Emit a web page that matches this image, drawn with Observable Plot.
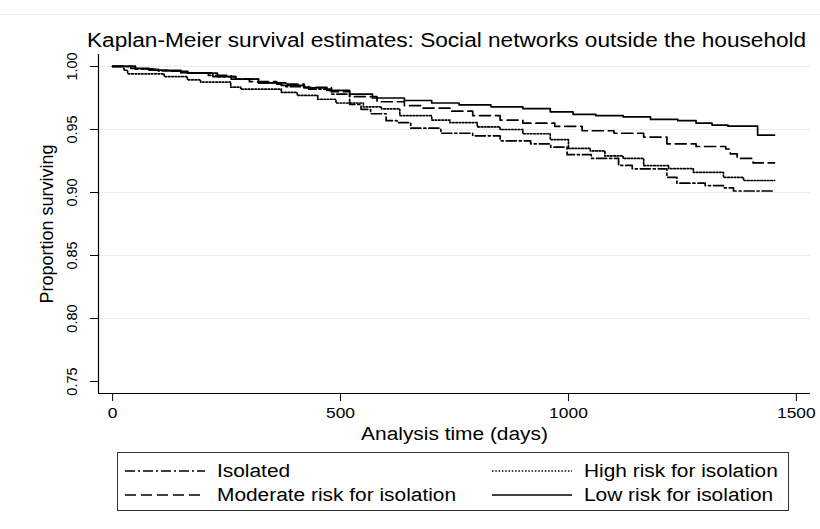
<!DOCTYPE html>
<html>
<head>
<meta charset="utf-8">
<script src="https://cdn.jsdelivr.net/npm/d3@7"></script>
<script src="https://cdn.jsdelivr.net/npm/@observablehq/plot@0.6"></script>
<style>
  html, body { margin: 0; padding: 0; background: #fff; }
  body { width: 820px; height: 529px; position: relative; overflow: hidden;
         font-family: "Liberation Sans", Arial, sans-serif; color: #000; }
  #topline { position: absolute; left: 0; top: 14px; width: 820px; height: 0; border-top: 1px solid #eef2f5; }
  #title { position: absolute; left: 87px; top: 28px; font-size: 19.5px; line-height: 24px; white-space: nowrap;
           transform: scaleX(1.16); transform-origin: 0 0; }
  #chart { position: absolute; left: 0; top: 50px; }
  #legend { position: absolute; left: 117px; top: 452px; width: 672px; height: 59px;
            border: 1px solid #333; box-sizing: border-box; }
  .item { position: absolute; height: 22px; display: flex; align-items: center; white-space: nowrap; }
  .item svg { margin-right: 12px; }
  .item span { display: inline-block; font-size: 18px; transform: scaleX(1.16); transform-origin: 0 50%; }
</style>
</head>
<body>
<div id="topline"></div>
<div id="title">Kaplan-Meier survival estimates: Social networks outside the household</div>
<div id="chart"></div>
<div id="legend"></div>
<script>
// ---- data (step-function knots) ----
const seriesNames = ["Isolated", "High risk for isolation", "Moderate risk for isolation", "Low risk for isolation"];

const isolatedTime = [0, 50, 100, 150, 220, 270, 320, 380, 430, 480, 520, 545, 566, 600, 624, 654, 720, 790, 850, 917, 961, 997, 1050, 1110, 1140, 1216, 1238, 1300, 1340, 1362, 1452];
const isolatedSurv = [1.000, 0.998, 0.9965, 0.995, 0.992, 0.990, 0.987, 0.984, 0.982, 0.978, 0.970, 0.966, 0.9625, 0.957, 0.9555, 0.951, 0.947, 0.945, 0.941, 0.9386, 0.936, 0.930, 0.927, 0.9215, 0.9188, 0.912, 0.9074, 0.9055, 0.9037, 0.9012, 0.9012];

const highTime = [0, 25, 33, 113, 164, 193, 259, 281, 370, 405, 450, 490, 550, 590, 630, 700, 740, 800, 850, 900, 960, 1000, 1048, 1080, 1120, 1165, 1220, 1274, 1340, 1384, 1452];
const highSurv = [1.000, 0.997, 0.9942, 0.992, 0.9894, 0.9876, 0.9836, 0.982, 0.9794, 0.977, 0.974, 0.971, 0.968, 0.9664, 0.961, 0.9575, 0.9555, 0.952, 0.950, 0.9466, 0.942, 0.935, 0.933, 0.929, 0.927, 0.9214, 0.919, 0.916, 0.912, 0.9095, 0.9095];

const moderateTime = [0, 50, 100, 150, 210, 260, 300, 360, 420, 480, 520, 580, 640, 680, 740, 790, 850, 900, 970, 1030, 1100, 1165, 1216, 1280, 1345, 1355, 1370, 1405, 1452];
const moderateSurv = [1.000, 0.998, 0.997, 0.995, 0.993, 0.990, 0.988, 0.986, 0.9835, 0.980, 0.976, 0.972, 0.969, 0.967, 0.9645, 0.961, 0.9575, 0.955, 0.9525, 0.949, 0.947, 0.944, 0.9386, 0.9365, 0.9345, 0.9307, 0.927, 0.9235, 0.9235];

const lowTime = [0, 40, 80, 130, 165, 230, 270, 320, 370, 420, 470, 520, 570, 640, 700, 760, 830, 900, 960, 1010, 1060, 1120, 1180, 1240, 1280, 1315, 1350, 1415, 1452];
const lowSurv = [1.000, 0.9985, 0.997, 0.9962, 0.9947, 0.992, 0.990, 0.987, 0.985, 0.983, 0.981, 0.978, 0.975, 0.973, 0.971, 0.9695, 0.968, 0.9665, 0.964, 0.962, 0.961, 0.960, 0.958, 0.957, 0.955, 0.9535, 0.9526, 0.9455, 0.9455];

const xTicks = [0, 500, 1000, 1500];
const yTicks = [0.75, 0.80, 0.85, 0.90, 0.95, 1.00];
const gridTicks = [0.80, 0.85, 0.90, 0.95, 1.00];

// ---- build table ----
const pairs = [[isolatedTime, isolatedSurv], [highTime, highSurv], [moderateTime, moderateSurv], [lowTime, lowSurv]];
const rows = [];
pairs.forEach(([t, s], i) => t.forEach((v, j) => rows.push({series: seriesNames[i], time: v, surv: s[j]})));

const dashes = {
  "Isolated": "10,3,2,3",
  "High risk for isolation": "1.5,1.8",
  "Moderate risk for isolation": "11,5",
  "Low risk for isolation": null
};

const marks = [
  Plot.ruleY(gridTicks, {stroke: "#e6eef2", strokeWidth: 1.2}),
  ...seriesNames.map(name => Plot.line(rows.filter(r => r.series === name), {
    x: "time", y: "surv", curve: "step-after", stroke: "#000", strokeWidth: 1.7,
    strokeDasharray: dashes[name] ?? undefined
  })),
  Plot.axisX({ticks: xTicks, tickSize: 8, tickPadding: 6, tickFormat: d3.format("d"),
    label: "Analysis time (days)", labelAnchor: "center", labelArrow: "none", labelOffset: 46}),
  Plot.axisY({ticks: yTicks, tickSize: 8, tickPadding: 14, tickRotate: -90,
    tickFormat: d3.format(".2f"),
    label: "Proportion surviving", labelAnchor: "center", labelArrow: "none", labelOffset: 58}),
  Plot.ruleX([-31], {stroke: "#000", strokeWidth: 1.2}),
  Plot.ruleY([0.7405], {stroke: "#000", strokeWidth: 1.2})
];

const chart = Plot.plot({
  width: 820,
  height: 395,
  marginTop: 4,
  marginBottom: 52,
  marginLeft: 98,
  marginRight: 10,
  style: {fontFamily: "'Liberation Sans', Arial, sans-serif", color: "#000", background: "transparent"},
  x: {domain: [-31, 1531]},
  y: {domain: [0.7405, 1.0095]},
  marks
});
document.getElementById("chart").appendChild(chart);

// font sizes and horizontal stretch of the horizontal texts (reference is stretched horizontally)
function styleGroup(label, size, stretch) {
  chart.querySelectorAll(`g[aria-label="${label}"]`).forEach(g => {
    g.setAttribute("font-size", size);
    g.style.fontSize = size + "px";
    if (stretch) g.querySelectorAll("text").forEach(t => {
      const w = t.getComputedTextLength();
      t.setAttribute("textLength", (w * stretch).toFixed(1));
      t.setAttribute("lengthAdjust", "spacingAndGlyphs");
    });
  });
}
styleGroup("x-axis tick label", 15, 1.16);
styleGroup("x-axis label", 18, 1.16);
styleGroup("y-axis tick label", 14.5, 0);
styleGroup("y-axis label", 18, 0);

// ---- legend ----
const legendOrder = [
  {name: "Isolated", left: 7, top: 7},
  {name: "High risk for isolation", left: 374, top: 7},
  {name: "Moderate risk for isolation", left: 7, top: 31},
  {name: "Low risk for isolation", left: 374, top: 31}
];
const leg = document.getElementById("legend");
legendOrder.forEach(it => {
  const d = document.createElement("div");
  d.className = "item";
  d.style.left = it.left + "px";
  d.style.top = it.top + "px";
  const da = dashes[it.name];
  d.innerHTML = `<svg width="80" height="6"><line x1="0" y1="3" x2="80" y2="3" stroke="#000" stroke-width="1.7" ${da ? `stroke-dasharray="${da}"` : ""}/></svg><span>${it.name}</span>`;
  leg.appendChild(d);
});
</script>
</body>
</html>
